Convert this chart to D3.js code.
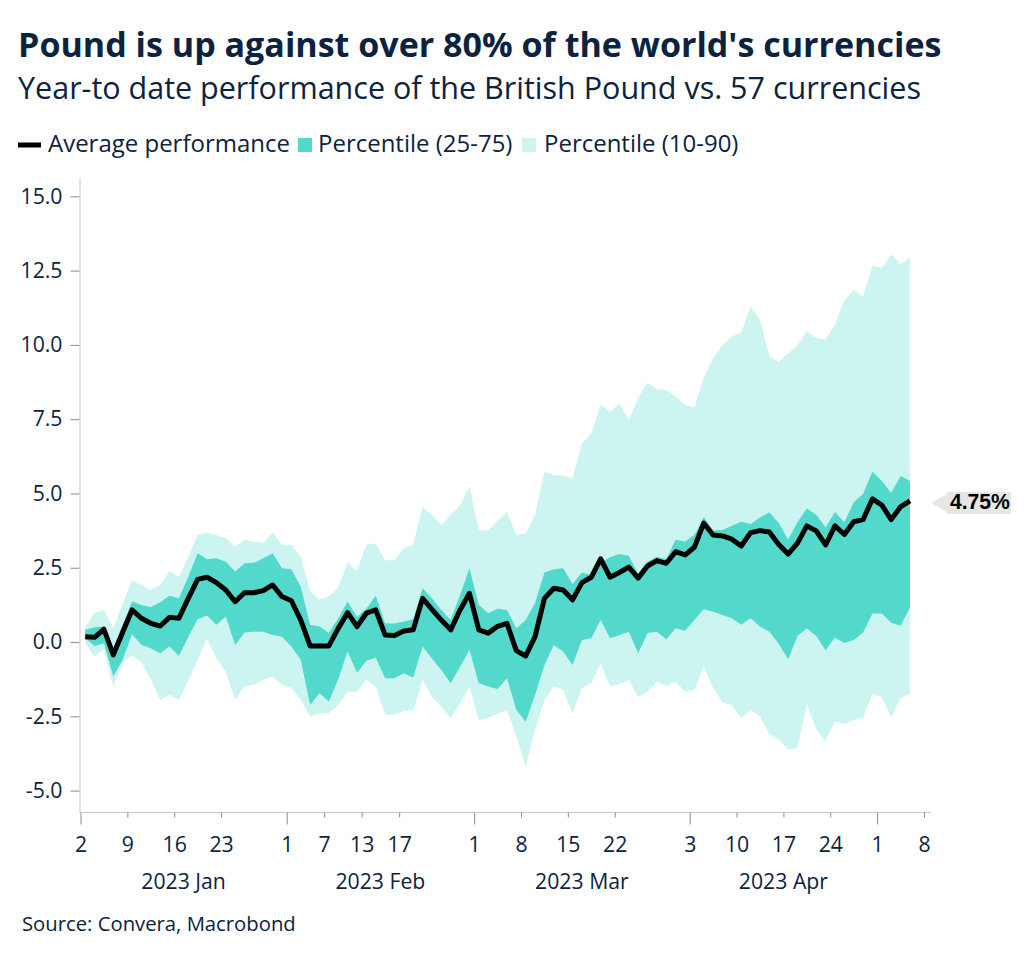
<!DOCTYPE html>
<html><head><meta charset="utf-8">
<script src="https://cdn.jsdelivr.net/npm/d3@7"></script>
<style>body{margin:0;background:#fff;} svg{display:block}</style>
</head><body>
<svg id="c" width="1024" height="958"></svg>
<script>
const dates = [
 "2023-01-02","2023-01-03","2023-01-04","2023-01-05","2023-01-06","2023-01-09","2023-01-10","2023-01-11","2023-01-12","2023-01-13",
 "2023-01-16","2023-01-17","2023-01-18","2023-01-19","2023-01-20","2023-01-23","2023-01-24","2023-01-25","2023-01-26","2023-01-27",
 "2023-01-30","2023-01-31","2023-02-01","2023-02-02","2023-02-03","2023-02-06","2023-02-07","2023-02-08","2023-02-09","2023-02-10",
 "2023-02-13","2023-02-14","2023-02-15","2023-02-16","2023-02-17","2023-02-20","2023-02-21","2023-02-22","2023-02-23","2023-02-24",
 "2023-02-27","2023-02-28","2023-03-01","2023-03-02","2023-03-03","2023-03-06","2023-03-07","2023-03-08","2023-03-09","2023-03-10",
 "2023-03-13","2023-03-14","2023-03-15","2023-03-16","2023-03-17","2023-03-20","2023-03-21","2023-03-22","2023-03-23","2023-03-24",
 "2023-03-27","2023-03-28","2023-03-29","2023-03-30","2023-03-31","2023-04-03","2023-04-04","2023-04-05","2023-04-06","2023-04-07",
 "2023-04-10","2023-04-11","2023-04-12","2023-04-13","2023-04-14","2023-04-17","2023-04-18","2023-04-19","2023-04-20","2023-04-21",
 "2023-04-24","2023-04-25","2023-04-26","2023-04-27","2023-04-28","2023-05-01","2023-05-02","2023-05-03","2023-05-04"];

const avgPerf = [0.18,0.16,0.43,-0.43,0.33,1.08,0.80,0.63,0.54,0.83,
 0.80,1.47,2.11,2.18,2.00,1.75,1.36,1.66,1.66,1.73,
 1.92,1.53,1.39,0.74,-0.13,-0.13,-0.13,0.46,0.99,0.52,
 0.97,1.08,0.24,0.22,0.37,0.41,1.47,1.10,0.74,0.41,
 1.08,1.64,0.41,0.30,0.53,0.63,-0.29,-0.47,0.18,1.47,
 1.81,1.75,1.42,2.00,2.18,2.80,2.18,2.34,2.52,2.15,
 2.56,2.74,2.65,3.04,2.93,3.19,4.00,3.60,3.57,3.46,
 3.23,3.68,3.75,3.70,3.28,2.96,3.33,3.91,3.74,3.27,
 3.91,3.62,4.05,4.12,4.82,4.61,4.12,4.55,4.75];

const p75 = [0.41,0.50,0.52,-0.21,0.58,1.36,1.25,1.17,1.34,1.56,
 1.47,2.20,2.99,2.79,2.82,2.70,2.37,2.65,2.67,2.82,
 2.99,2.48,2.45,1.86,0.58,0.52,0.30,0.80,1.36,0.85,
 1.12,1.56,0.63,0.62,0.69,0.77,1.81,1.47,1.08,0.74,
 1.58,2.48,1.25,0.97,1.12,1.08,0.46,0.74,1.31,2.34,
 2.45,2.48,1.95,2.34,2.26,2.67,2.85,2.96,2.90,2.30,
 2.70,2.87,2.79,3.44,3.38,3.60,4.20,3.75,3.77,3.91,
 4.05,3.97,4.19,4.37,4.01,3.45,4.03,4.49,4.28,3.86,
 4.38,4.03,4.70,4.98,5.74,5.42,5.02,5.59,5.42];

const p90 = [0.52,0.97,1.08,0.46,1.28,2.06,1.92,1.75,1.92,2.37,
 2.20,2.87,3.60,3.68,3.60,3.49,3.21,3.44,3.38,3.34,
 3.68,3.27,3.27,2.87,1.70,1.42,1.53,1.84,2.68,2.40,
 3.27,3.32,2.75,2.75,3.16,3.27,4.55,4.28,3.94,4.28,
 4.61,5.23,3.77,3.75,4.08,4.39,3.60,3.66,4.28,5.73,
 5.62,5.60,5.51,6.69,7.03,7.98,7.75,8.03,7.47,8.20,
 8.73,8.51,8.48,8.26,7.98,7.90,8.91,9.55,10.00,10.28,
 10.41,11.29,10.84,9.62,9.42,9.71,10.00,10.46,10.23,10.17,
 10.69,11.50,11.85,11.62,12.66,12.60,13.04,12.72,12.95];

const p25 = [0.13,-0.13,-0.04,-1.16,-0.60,0.27,-0.10,-0.21,-0.38,-0.15,
 -0.47,0.18,0.77,0.89,0.58,0.85,-0.10,0.32,0.35,0.35,
 0.24,0.18,-0.15,-0.60,-2.12,-1.72,-2.00,-1.25,-0.32,-1.03,
 -0.63,-0.52,-1.22,-1.22,-1.05,-1.19,-0.15,-0.55,-0.94,-1.39,
 -0.83,-0.27,-1.39,-1.50,-1.58,-1.22,-2.28,-2.68,-1.78,-0.77,
 -0.10,-0.32,-0.77,0.07,0.13,0.74,0.13,0.24,0.35,-0.38,
 0.30,0.35,0.09,0.46,0.38,0.74,1.11,1.02,0.91,0.80,
 0.58,0.80,0.52,0.35,-0.06,-0.58,0.20,0.46,0.20,-0.28,
 0.15,-0.03,0.07,0.32,0.96,0.96,0.65,0.55,1.15];

const p10 = [-0.04,-0.49,-0.24,-1.50,-0.68,-0.45,-0.68,-1.25,-1.95,-1.78,
 -1.95,-1.30,-0.60,0.12,-0.55,-1.00,-1.95,-1.50,-1.44,-1.28,
 -1.16,-1.44,-1.55,-1.95,-2.51,-2.40,-2.40,-2.12,-1.67,-1.67,
 -1.28,-1.50,-2.45,-2.45,-2.31,-2.31,-1.28,-1.84,-2.19,-2.56,
 -2.06,-1.50,-2.62,-2.56,-2.42,-2.28,-3.18,-4.19,-2.96,-1.95,
 -1.50,-1.61,-2.40,-1.55,-1.39,-0.71,-1.50,-1.41,-1.28,-1.85,
 -1.67,-1.33,-1.48,-1.33,-1.67,-1.61,-0.83,-1.55,-2.04,-2.12,
 -2.56,-2.28,-2.51,-3.09,-3.28,-3.62,-3.56,-2.09,-2.92,-3.33,
 -2.67,-2.75,-2.63,-2.55,-1.74,-1.86,-2.52,-1.88,-1.76];

const tickDates = ["2023-01-02","2023-01-09","2023-01-16","2023-01-23","2023-02-01","2023-02-07","2023-02-13","2023-02-17",
 "2023-03-01","2023-03-08","2023-03-15","2023-03-22","2023-04-03","2023-04-10","2023-04-17","2023-04-24","2023-05-01","2023-05-08"];
const monthStarts = ["2023-01-02","2023-02-01","2023-03-01","2023-04-03","2023-05-01"];
const monthLabels = ["2023 Jan","2023 Feb","2023 Mar","2023 Apr"];
const yTicks = [-5, -2.5, 0, 2.5, 5, 7.5, 10, 12.5, 15];

const titleText = "Pound is up against over 80% of the world's currencies";
const subtitleText = "Year-to date performance of the British Pound vs. 57 currencies";
const legendLabels = ["Average performance", "Percentile (25-75)", "Percentile (10-90)"];
const sourceText = "Source: Convera, Macrobond";

// ---------- setup ----------
const FONT = "'Open Sans','Noto Sans',sans-serif";
const NAVY = "#0c2340";
const DARK = "#53d9cc";
const LIGHT = "#ccf4f0";
const svg = d3.select("#c");
const parse = d3.timeParse("%Y-%m-%d");
const start = parse(dates[0]);
const bIndex = s => d3.timeDay.range(start, parse(s)).filter(d => d.getDay() !== 0 && d.getDay() !== 6).length;

function fit(sel, target) {
  const w = sel.node().getComputedTextLength();
  const fs = parseFloat(sel.attr("font-size"));
  const n = fs * target / w;
  sel.attr("font-size", n);
  return n;
}

const data = dates.map((d, i) => ({i: bIndex(d), avg: avgPerf[i], p10: p10[i], p25: p25[i], p75: p75[i], p90: p90[i]}));
const lastTickIdx = bIndex(tickDates[tickDates.length - 1]);

const x = d3.scaleLinear().domain([0, lastTickIdx]).range([80.5, 924]);
const y = d3.scaleLinear().domain([-5.72, 15.65]).range([812, 177]);
const xp = d => x(d.i + 0.5);

// ---------- titles ----------
const t = svg.append("text").attr("x", 18).attr("y", 57).attr("font-family", FONT)
  .attr("font-weight", 700).attr("font-size", 30).attr("fill", NAVY).text(titleText);
fit(t, 924);
const st = svg.append("text").attr("x", 18).attr("y", 99).attr("font-family", FONT)
  .attr("font-size", 27).attr("fill", NAVY).text(subtitleText);
fit(st, 903);

// ---------- legend ----------
const lg = svg.append("g").attr("font-family", FONT).attr("fill", NAVY);
lg.append("line").attr("x1", 18).attr("x2", 41).attr("y1", 145).attr("y2", 145)
  .attr("stroke", "#000").attr("stroke-width", 5);
const l1 = lg.append("text").attr("x", 48).attr("y", 152).attr("font-size", 21).text(legendLabels[0]);
const lfs = fit(l1, 242);
lg.append("rect").attr("x", 298).attr("y", 138).attr("width", 14).attr("height", 14).attr("fill", DARK);
lg.append("text").attr("x", 318).attr("y", 152).attr("font-size", lfs).text(legendLabels[1]);
lg.append("rect").attr("x", 522).attr("y", 138).attr("width", 14).attr("height", 14).attr("fill", LIGHT);
lg.append("text").attr("x", 544).attr("y", 152).attr("font-size", lfs).text(legendLabels[2]);

// ---------- areas & line ----------
const plot = svg.append("g");
plot.append("path").datum(data).attr("fill", LIGHT)
  .attr("d", d3.area().x(xp).y0(d => y(d.p10)).y1(d => y(d.p90)));
plot.append("path").datum(data).attr("fill", DARK)
  .attr("d", d3.area().x(xp).y0(d => y(d.p25)).y1(d => y(d.p75)));
plot.append("path").datum(data).attr("fill", "none").attr("stroke", "#000")
  .attr("stroke-width", 5).attr("stroke-linejoin", "round")
  .attr("d", d3.line().x(xp).y(d => y(d.avg)));

// ---------- y axis ----------
const ya = svg.append("g").attr("transform", "translate(79.5,0)")
  .call(d3.axisLeft(y).tickValues(yTicks).tickSize(9).tickSizeOuter(0).tickPadding(8)
    .tickFormat(d => d.toFixed(1)));
ya.select(".domain").attr("stroke", "#c8c8c8");
ya.selectAll(".tick line").attr("stroke", "#8c8c8c");
ya.selectAll(".tick text").attr("font-family", FONT).attr("fill", NAVY).attr("font-size", 20);
const yfs = fit(ya.select(".tick:last-of-type text"), 42);
ya.selectAll(".tick text").attr("font-size", yfs);

// ---------- x axis ----------
const majorSet = new Set(monthStarts.map(bIndex));
const tickIdx = tickDates.map(bIndex);
const xa = svg.append("g").attr("transform", "translate(0,812.5)")
  .call(d3.axisBottom(x).tickValues(tickIdx).tickSize(5).tickSizeOuter(0)
    .tickFormat((d, i) => String(+tickDates[i].slice(8))));
xa.select(".domain").remove();
xa.insert("line", ":first-child").attr("x1", 79.5).attr("x2", x.range()[1] + 7)
  .attr("stroke", "#c8c8c8");
xa.selectAll(".tick line").attr("stroke", "#8c8c8c").attr("y2", d => majorSet.has(d) ? 12 : 5);
xa.selectAll(".tick text").attr("font-family", FONT).attr("fill", NAVY)
  .attr("font-size", yfs).attr("y", 24);

// month labels
const ms = monthStarts.map(bIndex);
monthLabels.forEach((m, k) => {
  svg.append("text").attr("x", x((ms[k] + ms[k + 1]) / 2)).attr("y", 889)
    .attr("text-anchor", "middle").attr("font-family", FONT).attr("fill", NAVY)
    .attr("font-size", yfs).text(m);
});

// source
const src = svg.append("text").attr("x", 22).attr("y", 931).attr("font-family", FONT)
  .attr("font-size", 17).attr("fill", NAVY).text(sourceText);
fit(src, 274);

// ---------- end label ----------
const last = data[data.length - 1];
const ly = y(last.avg) + 2;
const lx = xp(last) + 21;
const eg = svg.append("g");
eg.append("path").attr("fill", "#e6e6e6")
  .attr("d", `M${lx},${ly} L${lx + 16},${ly - 9} L${lx + 16},${ly + 9} Z`);
eg.append("rect").attr("x", lx + 16).attr("y", ly - 11).attr("width", 64).attr("height", 22).attr("fill", "#e6e6e6");
const et = eg.append("text").attr("x", lx + 19).attr("y", ly + 6.5).attr("font-family", "'Liberation Sans',Arial,sans-serif")
  .attr("font-weight", 700).attr("font-size", 17).attr("fill", "#000").text(last.avg.toFixed(2) + "%");
fit(et, 60);
</script>
</body></html>
